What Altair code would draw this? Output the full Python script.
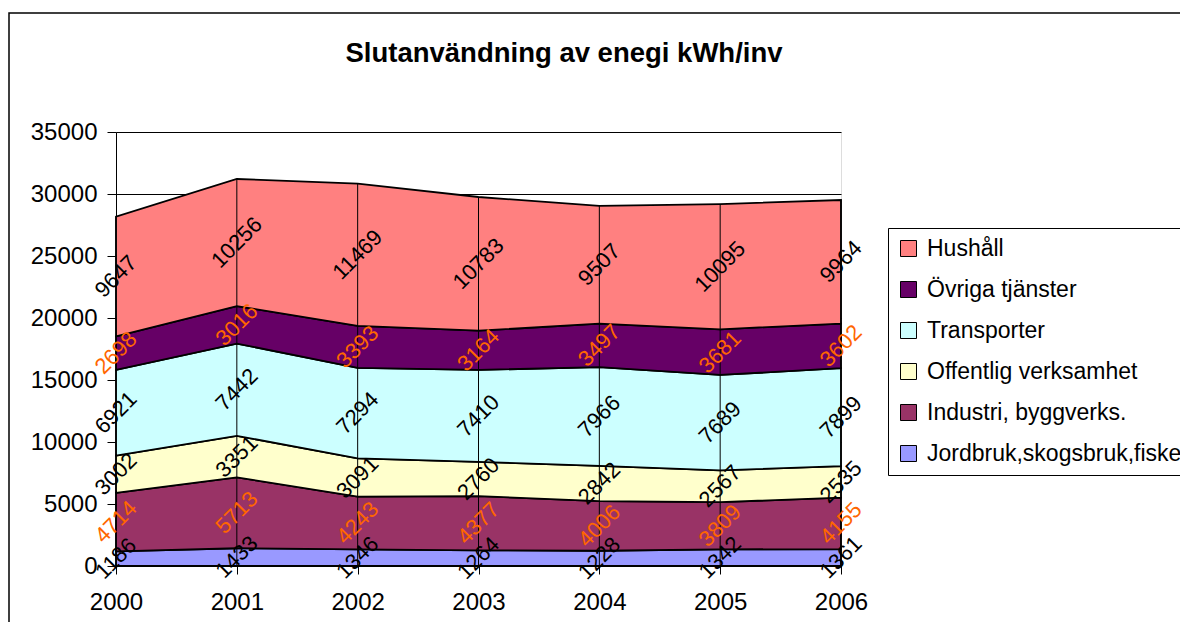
import altair as alt
import pandas as pd

years = [2000, 2001, 2002, 2003, 2004, 2005, 2006]
# legend order (top to bottom)
series = ["Hushåll", "Övriga tjänster", "Transporter", "Offentlig verksamhet",
          "Industri, byggverks.", "Jordbruk,skogsbruk,fiske"]
hushall = [9647, 10256, 11469, 10783, 9507, 10095, 9964]
ovriga = [2698, 3016, 3393, 3164, 3497, 3681, 3602]
transporter = [6921, 7442, 7294, 7410, 7966, 7689, 7899]
offentlig = [3002, 3351, 3091, 2760, 2842, 2567, 2535]
industri = [4714, 5713, 4243, 4377, 4006, 3809, 4155]
jordbruk = [1186, 1433, 1346, 1264, 1228, 1342, 1361]
colors = ["#FF8080", "#660066", "#CCFFFF", "#FFFFCC", "#993366", "#9999FF"]
label_colors = ["#000000", "#FF6600", "#000000", "#000000", "#FF6600", "#000000"]
y_ticks = [0, 5000, 10000, 15000, 20000, 25000, 30000, 35000]
title_text = "Slutanvändning av enegi kWh/inv"

values = [hushall, ovriga, transporter, offentlig, industri, jordbruk]

# build stacked table (bottom series = last in legend)
rows = []
base = [0] * len(years)
for idx in range(len(series) - 1, -1, -1):
    for j, yr in enumerate(years):
        v = values[idx][j]
        rows.append({"year": yr, "series": series[idx], "value": v,
                     "y0": base[j], "y1": base[j] + v, "mid": base[j] + v / 2,
                     "lcolor": label_colors[idx], "order": idx})
    base = [base[j] + values[idx][j] for j in range(len(years))]
df = pd.DataFrame(rows)
tot = pd.DataFrame({"year": years, "total": base})

FONT = "Liberation Sans, Arial, sans-serif"

xenc = alt.X("year:Q", scale=alt.Scale(domain=[2000, 2006], nice=False, zero=False),
             axis=alt.Axis(values=years, format="d", title=None, grid=False,
                           labelFlush=False, labelFontSize=24, labelFont=FONT,
                           labelColor="black", tickColor="black", tickSize=8,
                           domainColor="black", labelPadding=16))
yscale = alt.Scale(domain=[0, 35000], nice=False)

areas = alt.Chart(df).mark_area(stroke="black", strokeWidth=1.8, opacity=1).encode(
    x=xenc,
    y=alt.Y("y0:Q", scale=yscale,
            axis=alt.Axis(values=y_ticks, format="d", title=None, grid=True,
                          gridColor="black", gridOpacity=1, gridWidth=1,
                          labelFontSize=24, labelFont=FONT,
                          labelColor="black", tickColor="black", tickSize=9,
                          domainColor="black", labelPadding=10)),
    y2="y1:Q",
    color=alt.Color("series:N", scale=alt.Scale(domain=series, range=colors),
                    legend=alt.Legend(title=None, orient="none", legendX=772, legendY=96,
                                      strokeColor="black", fillColor="white", padding=9,
                                      labelFontSize=23, labelFont=FONT, labelColor="black",
                                      labelLimit=0,
                                      symbolType="square", symbolSize=256,
                                      symbolStrokeColor="black", symbolStrokeWidth=1,
                                      rowPadding=17, labelOffset=7)),
    detail="series:N",
)

drops = alt.Chart(tot).mark_rule(color="black", strokeWidth=1).encode(
    x="year:Q", y=alt.Y("total:Q", scale=yscale), y2=alt.datum(0)
)

labels = alt.Chart(df).mark_text(angle=315, fontSize=22, font=FONT,
                                 align="center", baseline="middle").encode(
    x="year:Q", y=alt.Y("mid:Q", scale=yscale), text="value:Q",
    color=alt.Color("lcolor:N", scale=None),
)

one = pd.DataFrame({"t": [title_text]})

border = alt.Chart(one).mark_rect(
    filled=False, stroke="black", strokeWidth=1.5).encode(
    x=alt.value(-107), x2=alt.value(2000), y=alt.value(-119), y2=alt.value(2000)
)

title = alt.Chart(one).mark_text(font=FONT, fontSize=27.5, fontWeight="bold",
                                 color="black", align="center",
                                 baseline="alphabetic").encode(
    x=alt.value(448), y=alt.value(-70), text="t:N"
)

chart = alt.layer(border, areas, drops, labels, title).properties(
    width=725, height=434,
    padding={"left": 108, "top": 124, "right": 339, "bottom": 56},
    autosize=alt.AutoSizeParams(type="none"),
).configure_view(stroke="black", strokeWidth=1).configure(background="white")

chart.save("out.html", embed_options={"renderer": "svg", "actions": False})
